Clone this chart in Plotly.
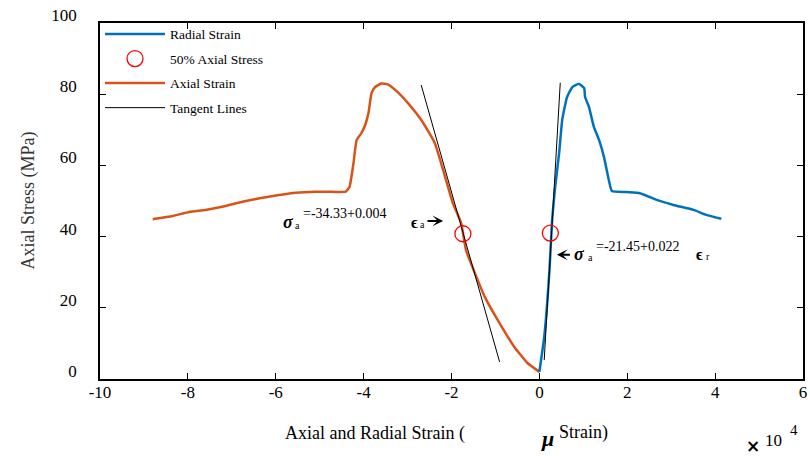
import plotly.graph_objects as go

# ---- data ----
axial_x = [-8.8, -8.35, -7.97, -7.6, -7.22, -6.68, -6.16, -5.55, -5.1, -4.8, -4.41, -4.32, -4.23,
           -4.16, -4.05, -3.96, -3.89, -3.82, -3.74, -3.6, -3.44, -3.28, -2.99, -2.69, -2.38,
           -2.19, -1.97, -1.78, -1.67, -1.47, -1.24, -0.95, -0.57, -0.27, 0.0]
axial_y = [44.9, 45.8, 46.9, 47.5, 48.4, 50.0, 51.2, 52.3, 52.6, 52.6, 52.6, 54.0, 60.7,
           67.1, 69.1, 71.5, 74.7, 80.3, 82.0, 83.0, 82.7, 81.2, 77.5, 72.8, 66.3,
           58.7, 49.4, 43.8, 36.2, 29.8, 23.0, 16.6, 9.0, 4.5, 2.0]

radial_x = [0.0, 0.11, 0.23, 0.29, 0.36, 0.45, 0.52, 0.63, 0.75, 0.9, 1.02, 1.04, 1.13,
            1.24, 1.36, 1.47, 1.58, 1.65, 1.99, 2.29, 2.67, 3.05, 3.51, 3.8, 4.14]
radial_y = [2.0, 11.8, 30.6, 44.7, 54.0, 63.5, 72.8, 79.2, 82.0, 82.9, 81.7, 79.2, 76.4,
            70.8, 67.1, 62.4, 55.9, 52.8, 52.5, 52.2, 50.3, 48.9, 47.5, 46.1, 45.0]

tangent_axial_x = [-2.69, -0.905]
tangent_axial_y = [82.6, 4.8]
tangent_radial_x = [0.475, 0.11]
tangent_radial_y = [83.2, 5.3]

half_stress_x = [-1.74, 0.25]
half_stress_y = [40.8, 41.0]

x_ticks = [-10, -8, -6, -4, -2, 0, 2, 4, 6]
y_ticks = [0, 20, 40, 60, 80, 100]

SERIF = "Liberation Serif, Times New Roman, serif"
ORANGE = "#D95319"
BLUE = "#0072BD"

fig = go.Figure()
fig.add_trace(go.Scatter(x=axial_x, y=axial_y, mode="lines", name="Axial Strain",
                         line=dict(color=ORANGE, width=2.5, shape="spline", smoothing=0.4),
                         legendrank=3, legendgroup="c"))
fig.add_trace(go.Scatter(x=radial_x, y=radial_y, mode="lines", name="Radial Strain",
                         line=dict(color=BLUE, width=2.5, shape="spline", smoothing=0.4),
                         legendrank=1, legendgroup="a"))
fig.add_trace(go.Scatter(x=tangent_axial_x, y=tangent_axial_y, mode="lines", name="Tangent Lines",
                         line=dict(color="black", width=1), legendrank=4, legendgroup="d"))
fig.add_trace(go.Scatter(x=tangent_radial_x, y=tangent_radial_y, mode="lines", showlegend=False,
                         line=dict(color="black", width=1), legendgroup="d"))
fig.add_trace(go.Scatter(x=half_stress_x, y=half_stress_y, mode="markers", name="50% Axial Stress",
                         marker=dict(symbol="circle-open", size=16, color="red",
                                     line=dict(width=1.3, color="red")),
                         legendrank=2, legendgroup="b"))

ann = []
def txt(x, y, t, size=14, xanchor="center", ref="data", **kw):
    d = dict(x=x, y=y, text=t, showarrow=False, xanchor=xanchor, yanchor="middle",
             font=dict(family=SERIF, size=size, color="black"))
    if ref == "paper":
        d.update(xref="paper", yref="paper")
    d.update(kw)
    ann.append(d)

def arrow(x0, x1, y):
    ann.append(dict(x=x1, y=y, ax=x0, ay=y, axref="x", ayref="y", xref="x", yref="y",
                    text="", showarrow=True, arrowhead=3, arrowsize=0.9, arrowwidth=2,
                    arrowcolor="black"))

# axial tangent equation
txt(-5.70, 44.1, "<b><i>σ</i></b>", size=18)
txt(-5.50, 43.0, "a", size=10)
txt(-5.43, 46.4, "=-34.33+0.004", size=14, xanchor="left")
txt(-2.85, 44.1, "<b>ϵ</b>", size=16)
txt(-2.66, 43.4, "a", size=10)
arrow(-2.58, -2.19, 44.4)
# radial tangent equation
arrow(0.73, 0.40, 34.9)
txt(0.91, 35.1, "<b><i>σ</i></b>", size=18)
txt(1.16, 34.0, "a", size=10)
txt(1.25, 37.2, "=-21.45+0.022", size=14, xanchor="left")
txt(3.65, 35.1, "<b>ϵ</b>", size=16)
txt(3.83, 34.4, "r", size=10)

# axis titles
txt(-0.103, 0.50, "Axial Stress (MPa)", size=18, ref="paper", textangle=-90,
    font=dict(family=SERIF, size=18, color="#333333"))
txt(0.391, -0.152, "Axial and Radial Strain (", size=18, ref="paper")
txt(0.636, -0.166, "<b><i>μ</i></b>", size=22, ref="paper")
txt(0.688, -0.150, "Strain)", size=18, ref="paper")
txt(0.929, -0.188, "<b>×</b>", size=17, ref="paper",
    font=dict(family="DejaVu Sans", size=17, color="black"))
txt(0.958, -0.172, "10", size=17, ref="paper")
txt(0.987, -0.143, "4", size=15, ref="paper")

fig.update_layout(
    width=810, height=456,
    margin=dict(l=100, r=3, t=23, b=77),
    paper_bgcolor="white", plot_bgcolor="white",
    font=dict(family=SERIF, size=17, color="black"),
    showlegend=True,
    legend=dict(x=0, y=1.012, xanchor="left", yanchor="top", bgcolor="rgba(0,0,0,0)",
                borderwidth=0, font=dict(family=SERIF, size=13.5, color="black"),
                tracegroupgap=4, itemwidth=60, traceorder="grouped"),
    annotations=ann,
    xaxis=dict(range=[-10, 6], tickvals=x_ticks, ticktext=[str(v) for v in x_ticks],
               showgrid=False, zeroline=False, showline=True, linecolor="black", linewidth=1.5,
               mirror="ticks", ticks="inside", ticklen=6, tickcolor="black", tickwidth=1,
               ticklabelstandoff=-3),
    yaxis=dict(range=[0, 100], tickvals=y_ticks, ticktext=[str(v) for v in y_ticks],
               showgrid=False, zeroline=False, showline=True, linecolor="black", linewidth=1.5,
               mirror="ticks", ticks="inside", ticklen=6, tickcolor="black", tickwidth=1,
               ticklabelstandoff=18, ticklabelshift=-8),
)

fig.write_html("out.html")
